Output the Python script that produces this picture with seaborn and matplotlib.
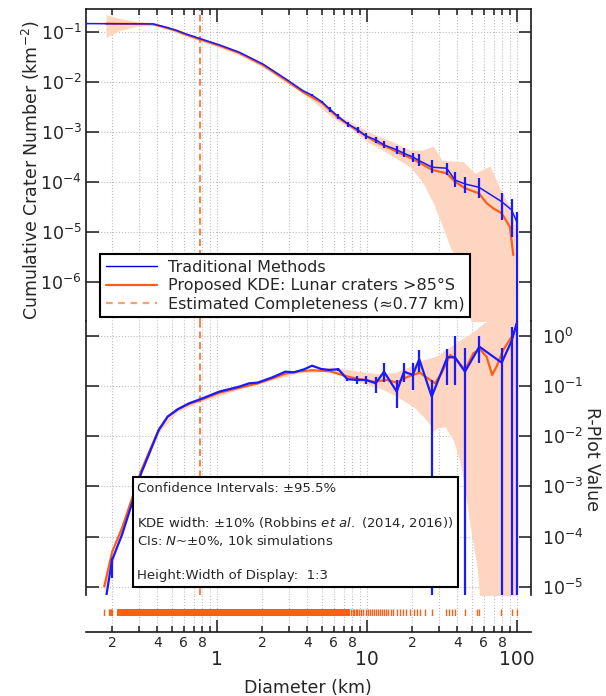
import numpy as np
import pandas as pd
import matplotlib
matplotlib.use("Agg")
import matplotlib.pyplot as plt
import matplotlib.ticker as mticker
from matplotlib.lines import Line2D
from matplotlib.patches import Rectangle
import seaborn as sns

# ---- cumulative SFD, traditional binning (km, km^-2) ----
cum_d = [0.134, 0.373, 0.457, 0.533, 0.621, 0.782, 1.04, 1.41, 2.02, 2.88, 3.73,
         4.28, 4.99, 5.67, 6.44, 7.50, 8.75, 9.80, 11.5, 13.0, 15.9, 17.6, 20.4,
         22.3, 27.2, 34.0, 38.6, 45.0, 55.8, 79.1, 92.2, 100.5]
cum_n = [0.149, 0.147, 0.126, 0.110, 0.0925, 0.0735, 0.0557, 0.0398, 0.0232, 0.0116, 0.0068,
         5.57e-3, 4.09e-3, 2.88e-3, 2.05e-3, 1.445e-3, 1.11e-3, 8.43e-4, 7.02e-4, 5.57e-4,
         4.43e-4, 3.80e-4, 3.16e-4, 2.70e-4, 2.0e-4, 1.91e-4, 1.11e-4, 9.25e-5, 7.94e-5,
         4.09e-5, 2.79e-5, 1.51e-5]
cum_lo = [np.nan] * 11 + [5.39e-3, 3.91e-3, 2.58e-3, 1.82e-3, 1.26e-3, 9.55e-4, 7.35e-4,
         6.03e-4, 4.79e-4, 3.63e-4, 3.16e-4, 2.58e-4, 2.12e-4, 1.51e-4, 1.40e-4, 7.94e-5,
         6.03e-5, 4.79e-5, 1.76e-5, 8.17e-6, 1e-9]
cum_hi = [np.nan] * 11 + [5.75e-3, 4.28e-3, 3.16e-3, 2.29e-3, 1.63e-3, 1.29e-3, 9.82e-4,
         8.17e-4, 6.70e-4, 5.32e-4, 4.79e-4, 3.91e-4, 3.63e-4, 2.79e-4, 2.47e-4, 1.63e-4,
         1.29e-4, 1.20e-4, 6.19e-5, 4.57e-5, 2.58e-5]

# ---- cumulative SFD, KDE ----
kde_d = [0.182, 0.373, 0.457, 0.533, 0.621, 0.782, 1.04, 1.41, 2.02, 2.88, 3.73, 4.99,
         6.44, 8.75, 11.5, 15.9, 20.4, 27.3, 34.0, 38.6, 45.0, 55.8, 62.9, 69.6, 79.0,
         89.7, 94.5]
kde_n = [0.148, 0.146, 0.124, 0.108, 0.090, 0.0715, 0.054, 0.0385, 0.0222, 0.0110, 0.0064,
         0.0039, 0.00195, 0.00105, 0.00064, 0.000404, 0.000288, 0.000176, 0.000151,
         0.000103, 7.6e-5, 6.0e-5, 3.8e-5, 3.0e-5, 2.4e-5, 1.29e-5, 3.5e-6]

# KDE confidence interval (cumulative)
cum_band_d = [0.182, 0.223, 0.288, 0.373, 0.457, 0.621, 0.782, 1.036, 1.408, 2.017, 2.884,
              3.575, 5.96, 7.70, 9.95, 12.85, 14.97, 19.35, 23.73, 27.67, 31.48, 35.76,
              39.63, 43.85, 52.48, 66.07, 77.0, 89.8, 97.0]
cum_band_hi = [0.225, 0.1905, 0.163, 0.1535, 0.1337, 0.0968, 0.0769, 0.0583, 0.0413, 0.0243,
               0.0122, 0.00817, 0.00255, 0.00163, 0.00106, 7.59e-4, 6.40e-4, 4.43e-4,
               4.43e-4, 5.32e-4, 2.79e-4, 2.67e-4, 2.61e-4, 2.58e-4, 1.51e-4, 2.12e-4,
               7.59e-5, 3.25e-5, 1.29e-5]
cum_band_lo = [0.0794, 0.1076, 0.1318, 0.1368, 0.1164, 0.0824, 0.0655, 0.0497, 0.0352,
               0.0202, 0.00991, 0.00686, 0.00191, 0.00122, 6.49e-4, 4.33e-4, 3.25e-4,
               2.05e-4, 9.55e-5, 3.80e-5, 1.47e-5, 5.15e-6, 2.79e-6, 8.83e-7, 7e-8, 1e-8,
               1e-8, 1e-8, 1e-8]

# ---- R-plot, traditional binning ----
r_d = [0.180, 0.1995, 0.2326, 0.267, 0.311, 0.354, 0.409, 0.469, 0.547, 0.654, 0.782,
       1.036, 1.408, 1.642, 1.867, 2.35, 2.853, 3.276, 3.819, 4.30, 4.935, 5.61, 6.44,
       7.39, 8.61, 9.85, 11.43, 12.98, 15.78, 17.65, 20.2, 22.3, 27.0, 34.3, 38.6, 45.0,
       56.1, 79.1, 92.2, 99.5]
r_val = [5.0e-6, 3.41e-5, 1.09e-4, 3.98e-4, 1.78e-3, 4.59e-3, 0.0133, 0.0245, 0.0344,
         0.0453, 0.0551, 0.0771, 0.0968, 0.113, 0.1164, 0.149, 0.192, 0.187, 0.215, 0.253,
         0.218, 0.208, 0.215, 0.136, 0.1316, 0.1316, 0.113, 0.192, 0.0771, 0.192, 0.1656,
         0.34, 0.0613, 0.372, 0.372, 0.192, 0.604, 0.29, 0.796, 1.76]
r_lo = [np.nan, 1.5e-5] + [np.nan] * 17 + [0.24, 0.208, 0.198, 0.2, 0.126, 0.109, 0.109,
        0.0736, 0.122, 0.036, 0.122, 0.0832, 0.192, 1e-7, 0.1047, 0.1047, 1e-7, 0.283,
        1e-7, 1e-7, 1e-7]
r_hi = [np.nan, 3.8e-5] + [np.nan] * 17 + [0.266, 0.229, 0.219, 0.23, 0.147, 0.158, 0.158,
        0.153, 0.283, 0.1316, 0.290, 0.283, 0.52, 0.1316, 0.537, 0.986, 0.562, 0.986,
        0.562, 1.51, 5.0]

# ---- R-plot, KDE ----
r_kde_d = [0.177, 0.2, 0.233, 0.267, 0.311, 0.354, 0.409, 0.469, 0.547, 0.654, 0.782,
           1.036, 1.408, 1.867, 2.35, 2.853, 3.5, 4.3, 5.0, 5.67, 7.7, 11.0, 13.6, 15.8,
           18.4, 22.5, 26.3, 28.4, 31.4, 35.8, 39.6, 45.0, 51.2, 56.6, 62.7, 68.3, 73.1,
           81.0, 92.2, 99.5]
r_kde = [1.02e-5, 5.0e-5, 1.5e-4, 5.0e-4, 2.0e-3, 5.0e-3, 0.0135, 0.0245, 0.034, 0.044,
         0.053, 0.073, 0.092, 0.112, 0.142, 0.175, 0.195, 0.205, 0.2, 0.195, 0.149, 0.1216,
         0.1316, 0.1164, 0.149, 0.184, 0.1316, 0.113, 0.179, 0.413, 0.329, 0.208, 0.447,
         0.537, 0.383, 0.1656, 0.242, 0.52, 0.955, 1.51]

r_band_d = [0.177, 0.233, 0.311, 0.409, 0.547, 0.782, 1.408, 2.35, 3.5, 4.3, 5.0, 5.67,
            9.45, 12.21, 15.78, 20.36, 23.73, 26.3, 27.67, 29.15, 33.1, 37.6, 41.7, 45.0,
            48.6, 53.9, 56.7, 66.1, 77.0, 100]
r_band_hi = [1.2e-5, 1.7e-4, 2.2e-3, 0.0145, 0.036, 0.056, 0.097, 0.15, 0.205, 0.215,
             0.215, 0.239, 0.19, 0.173, 0.19, 0.262, 0.329, 0.36, 0.377, 0.395, 0.52,
             0.653, 0.822, 0.942, 1.08, 1.36, 1.56, 2.05, 2.58, 5.13]
r_band_lo = [8e-6, 1.25e-4, 1.7e-3, 0.0118, 0.031, 0.049, 0.086, 0.132, 0.18, 0.19, 0.19,
             0.192, 0.113, 0.09, 0.0613, 0.0388, 0.0245, 0.0168, 0.0123, 0.0144, 0.0155,
             8.44e-3, 3.08e-3, 8.57e-4, 1.73e-4, 2.76e-5, 5.6e-6, 1e-7, 1e-7, 1e-7]

# ---- individual crater diameters (rug) ----
rug_dense = (0.2154, 7.7)  # continuous block of ticks
rug_d = [0.177, 0.19, 0.193, 0.197, 0.2, 7.78, 8.02, 8.23, 8.45, 8.62, 8.85, 9.12, 9.45,
         9.80, 10.2, 10.47, 10.74, 11.13, 11.48, 11.78, 12.21, 12.66, 13.05, 13.39, 13.88,
         14.38, 14.98, 15.77, 16.6, 17.29, 18.2, 19.35, 20.57, 21.66, 22.56, 24.24, 26.98,
         33.45, 35.22, 36.69, 38.81, 45.0, 54.4, 56.1, 78.2, 92.1, 100.5]

completeness = 0.77

x_major = [1, 10, 100]
x_major_labels = ["1", "10", "100"]
x_minor = [0.2, 0.3, 0.4, 0.5, 0.6, 0.7, 0.8, 0.9, 2, 3, 4, 5, 6, 7, 8, 9,
           20, 30, 40, 50, 60, 70, 80, 90]
x_minor_labels = ["2", "", "4", "", "6", "", "8", ""] * 3

BLUE = "#1a1aff"
ORANGE = "#ff5f14"
PEACH = "#fdd5c0"
GRID = "#bdbdbd"
INK = "#1a1a1a"

sns.set_style("ticks")
plt.rcParams["font.family"] = ["DejaVu Sans"]
plt.rcParams["mathtext.default"] = "regular"

W, H = 606, 696
fig = plt.figure(figsize=(W / 100, H / 100), dpi=100)


def box(x0, y0, x1, y1):
    return [x0 / W, 1 - y1 / H, (x1 - x0) / W, (y1 - y0) / H]


ax_c = fig.add_axes(box(86, 9, 531, 321))
ax_r = fig.add_axes(box(86, 321, 531, 595))
ax_x = fig.add_axes(box(86, 595, 531, 632))
ax_rug = fig.add_axes(box(86, 609, 531, 616))

xlim = (0.1338, 124.0)
for ax in (ax_c, ax_r, ax_x, ax_rug):
    ax.set_xscale("log")
    ax.set_xlim(*xlim)
    ax.set_facecolor("none")
    ax.xaxis.set_major_locator(mticker.FixedLocator(x_major))
    ax.xaxis.set_minor_locator(mticker.FixedLocator(x_minor))
    for s in ax.spines.values():
        s.set_color(INK)
        s.set_linewidth(1.2)

ax_c.set_yscale("log")
ax_c.set_ylim(1.68e-7, 0.292)
ax_r.set_yscale("log")
ax_r.set_ylim(6.9e-6, 1.96)

# ---- cumulative panel ----
ax_c.fill_between(cum_band_d, cum_band_lo, cum_band_hi, color=PEACH, lw=0, zorder=1)
sns.lineplot(x=kde_d, y=kde_n, ax=ax_c, color=ORANGE, lw=1.6, estimator=None, sort=False, zorder=3)
sns.lineplot(x=cum_d, y=cum_n, ax=ax_c, color=BLUE, lw=1.1, estimator=None, sort=False, zorder=4)
cum = pd.DataFrame({"d": cum_d, "lo": cum_lo, "hi": cum_hi}).dropna()
ax_c.vlines(cum["d"], cum["lo"], cum["hi"], color=BLUE, lw=1.6, zorder=4)

# ---- R-plot panel ----
ax_r.fill_between(r_band_d, r_band_lo, r_band_hi, color=PEACH, lw=0, zorder=1)
sns.lineplot(x=r_kde_d, y=r_kde, ax=ax_r, color=ORANGE, lw=1.6, estimator=None, sort=False, zorder=3)
sns.lineplot(x=r_d, y=r_val, ax=ax_r, color=BLUE, lw=1.6, estimator=None, sort=False, zorder=4)
rp = pd.DataFrame({"d": r_d, "lo": r_lo, "hi": r_hi}).dropna()
ax_r.vlines(rp["d"], rp["lo"], rp["hi"], color=BLUE, lw=1.6, zorder=4)

for ax in (ax_c, ax_r):
    ax.axvline(completeness, color=ORANGE, lw=1.1, ls=(0, (4.5, 2.5)), zorder=2)
    ax.grid(True, which="both", axis="x", ls=":", color=GRID, lw=0.8)
    ax.grid(True, which="major", axis="y", ls=":", color=GRID, lw=0.8)
    ax.set_axisbelow(True)
    ax.yaxis.set_minor_locator(mticker.NullLocator())
    ax.set_xlabel("")
    ax.set_ylabel("")

ax_c.yaxis.set_major_locator(mticker.FixedLocator([1e-6, 1e-5, 1e-4, 1e-3, 1e-2, 1e-1]))
ax_c.yaxis.set_major_formatter(mticker.LogFormatterSciNotation())
ax_c.spines["bottom"].set_visible(False)
ax_c.tick_params(axis="x", which="both", direction="in", top=True, bottom=False,
                 labelbottom=False, labeltop=False, color=INK, width=1.1)
ax_c.tick_params(axis="x", which="major", length=9)
ax_c.tick_params(axis="x", which="minor", length=4.5)
ax_c.tick_params(axis="y", which="major", direction="in", left=True, right=True,
                 labelleft=True, labelright=False, length=9, width=1.1, color=INK,
                 labelsize=12.5, pad=3)

ax_r.yaxis.set_major_locator(mticker.FixedLocator([1e-5, 1e-4, 1e-3, 1e-2, 1e-1, 1]))
ax_r.yaxis.set_major_formatter(mticker.LogFormatterSciNotation())
ax_r.spines["top"].set_visible(False)
ax_r.spines["bottom"].set_visible(False)
ax_r.tick_params(axis="x", which="both", top=False, bottom=False, labelbottom=False)
ax_r.tick_params(axis="y", which="major", direction="in", left=True, right=True,
                 labelleft=False, labelright=True, length=9, width=1.1, color=INK,
                 labelsize=12.5, pad=8)

# ---- bottom diameter axis + rug ----
for side in ("top", "left", "right"):
    ax_x.spines[side].set_visible(False)
ax_x.set_yticks([])
ax_x.grid(True, which="both", axis="x", ls=":", color=GRID, lw=0.8)
ax_x.xaxis.set_major_formatter(mticker.FixedFormatter(x_major_labels))
ax_x.xaxis.set_minor_formatter(mticker.FixedFormatter(x_minor_labels))
ax_x.tick_params(axis="x", which="both", direction="in", bottom=True, top=False,
                 color=INK, width=1.1)
ax_x.tick_params(axis="x", which="major", length=9, labelsize=13.5, pad=13)
ax_x.tick_params(axis="x", which="minor", length=4.5, labelsize=10, pad=3)

ax_rug.set_ylim(0, 1)
ax_rug.axvspan(*rug_dense, color=ORANGE, lw=0)
sns.rugplot(x=rug_d, ax=ax_rug, height=1, color=ORANGE, lw=1.5, expand_margins=False)
ax_rug.axis("off")

# ---- legend ----
handles = [Line2D([], [], color="#0000c8", lw=1.0),
           Line2D([], [], color=ORANGE, lw=1.6),
           Line2D([], [], color="#ffa070", lw=1.6, ls=(0, (3, 2.5)))]
labels = ["Traditional Methods", "Proposed KDE: Lunar craters >85°S",
          "Estimated Completeness (≈0.77 km)"]
leg = fig.legend(handles, labels, loc="upper left", bbox_to_anchor=(100 / W, 1 - 254 / H),
                 frameon=True, fancybox=False, edgecolor="black", framealpha=1,
                 fontsize=11.5, handlelength=3.2, borderpad=0.35, labelspacing=0.22,
                 handletextpad=0.7, borderaxespad=0)
leg.get_frame().set_linewidth(1.5)
leg.set_zorder(10)

# ---- info box ----
fig.add_artist(Rectangle((133 / W, 1 - 587 / H), (458 - 133) / W, (587 - 477) / H,
                         transform=fig.transFigure, facecolor="white", edgecolor="black",
                         lw=1.5, zorder=8))
info = [("Confidence Intervals: ±95.5%", 488),
        (r"KDE width: ±10% (Robbins $\mathit{et\ al.}$ (2014, 2016))", 523),
        (r"CIs: $\mathit{N}$~±0%, 10k simulations", 540),
        ("Height:Width of Display:  1:3", 575)]
for txt, yy in info:
    fig.text(137 / W, 1 - yy / H, txt, fontsize=9.5, ha="left", va="center", zorder=9)

fig.text(31 / W, 1 - 170 / H, "Cumulative Crater Number (km$^{-2}$)", rotation=90,
         ha="center", va="center", fontsize=12.5)
fig.text(592 / W, 1 - 459 / H, "R-Plot Value", rotation=270, ha="center", va="center",
         fontsize=12.5)
fig.text(308 / W, 1 - 688 / H, "Diameter (km)", ha="center", va="center", fontsize=12.5)

fig.savefig("out.png", dpi=100)
